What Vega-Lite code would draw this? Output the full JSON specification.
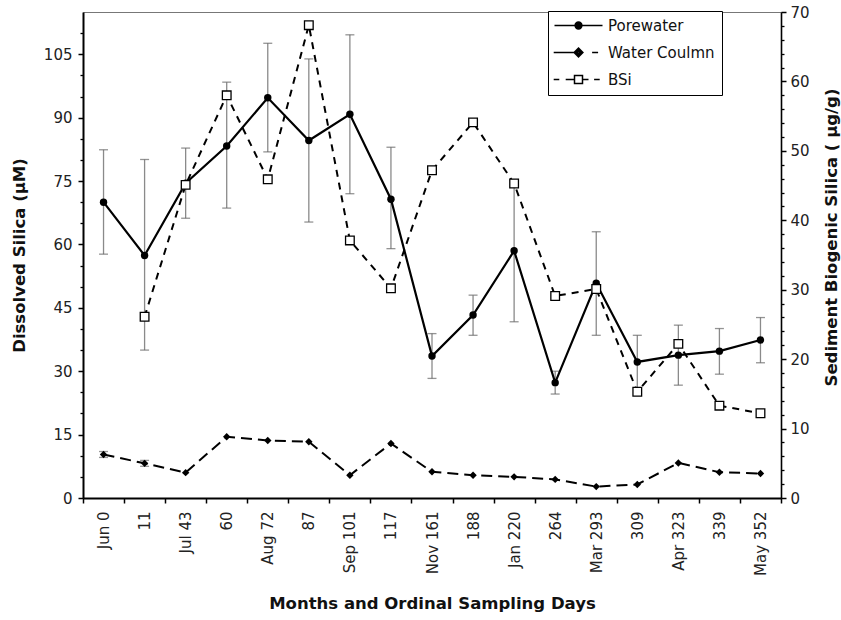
{
  "$schema": "https://vega.github.io/schema/vega-lite/v6.json",
  "width": 698,
  "height": 486,
  "autosize": {"type": "none"},
  "padding": {"left": 83, "top": 12, "right": 60, "bottom": 122},
  "background": "white",
  "config": {
    "font": "DejaVu Sans",
    "view": {"stroke": "#777", "strokeWidth": 1},
    "axis": {
      "grid": false,
      "labelFont": "DejaVu Sans",
      "labelFontSize": 15,
      "labelColor": "#222",
      "titleFont": "DejaVu Sans",
      "titleFontSize": 16.5,
      "titleFontWeight": "bold",
      "titleColor": "#111",
      "domainColor": "black",
      "tickColor": "black"
    }
  },
  "datasets": {
    "main": [
      {"day": "Jun 0", "pw": 70.0, "wc": 10.3, "bsi": null},
      {"day": "11", "pw": 57.4, "wc": 8.2, "bsi": 26.1},
      {"day": "Jul 43", "pw": 74.5, "wc": 6.0, "bsi": 45.1},
      {"day": "60", "pw": 83.3, "wc": 14.5, "bsi": 58.0},
      {"day": "Aug 72", "pw": 94.7, "wc": 13.6, "bsi": 45.9},
      {"day": "87", "pw": 84.6, "wc": 13.3, "bsi": 68.1},
      {"day": "Sep 101", "pw": 90.8, "wc": 5.4, "bsi": 37.1},
      {"day": "117", "pw": 70.7, "wc": 12.9, "bsi": 30.2},
      {"day": "Nov 161", "pw": 33.6, "wc": 6.2, "bsi": 47.2},
      {"day": "188", "pw": 43.3, "wc": 5.4, "bsi": 54.1},
      {"day": "Jan 220", "pw": 58.5, "wc": 5.0, "bsi": 45.3},
      {"day": "264", "pw": 27.3, "wc": 4.4, "bsi": 29.1},
      {"day": "Mar 293", "pw": 50.8, "wc": 2.7, "bsi": 30.1},
      {"day": "309", "pw": 32.2, "wc": 3.2, "bsi": 15.3},
      {"day": "Apr 323", "pw": 33.8, "wc": 8.3, "bsi": 22.2},
      {"day": "339", "pw": 34.75, "wc": 6.1, "bsi": 13.3},
      {"day": "May 352", "pw": 37.4, "wc": 5.8, "bsi": 12.2}
    ],
    "errors": [
      {"day": "Jun 0", "lo": 57.7, "hi": 82.4},
      {"day": "11", "lo": 35.0, "hi": 80.1},
      {"day": "Jul 43", "lo": 66.2, "hi": 82.8},
      {"day": "60", "lo": 68.6, "hi": 98.4},
      {"day": "Aug 72", "lo": 81.9, "hi": 107.6},
      {"day": "87", "lo": 65.3, "hi": 103.9},
      {"day": "Sep 101", "lo": 72.0, "hi": 109.6},
      {"day": "117", "lo": 59.0, "hi": 83.0},
      {"day": "Nov 161", "lo": 28.3, "hi": 38.9},
      {"day": "188", "lo": 38.5, "hi": 48.0},
      {"day": "Jan 220", "lo": 41.7, "hi": 75.3},
      {"day": "264", "lo": 24.6, "hi": 30.0},
      {"day": "Mar 293", "lo": 38.5, "hi": 63.0},
      {"day": "309", "lo": 26.0, "hi": 38.5},
      {"day": "Apr 323", "lo": 26.7, "hi": 40.9},
      {"day": "339", "lo": 29.3, "hi": 40.1},
      {"day": "May 352", "lo": 32.0, "hi": 42.7},
      {"day": "Jun 0", "lo": 9.6, "hi": 11.0},
      {"day": "11", "lo": 7.5, "hi": 8.9}
    ],
    "legend": [
      {"day": "Jun 0", "series": "Porewater"},
      {"day": "Jun 0", "series": "Water Coulmn"},
      {"day": "Jun 0", "series": "BSi"}
    ]
  },
  "encoding": {
    "x": {
      "field": "day",
      "type": "nominal",
      "scale": {
        "type": "band",
        "domain": ["Jun 0", "11", "Jul 43", "60", "Aug 72", "87", "Sep 101", "117", "Nov 161", "188", "Jan 220", "264", "Mar 293", "309", "Apr 323", "339", "May 352"],
        "paddingInner": 0,
        "paddingOuter": 0
      },
      "axis": {
        "orient": "bottom",
        "title": "Months and Ordinal Sampling Days",
        "labelAngle": 270,
        "tickBand": "extent",
        "tickSize": 5,
        "tickWidth": 1.5,
        "domainWidth": 2,
        "labelPadding": 8,
        "titlePadding": 20
      }
    }
  },
  "layer": [
    {
      "resolve": {"axis": {"y": "independent"}},
      "layer": [
        {
          "data": {"name": "errors"},
          "mark": {"type": "rule", "color": "#8a8a8a", "strokeWidth": 1.3},
          "encoding": {
            "y": {"field": "lo", "type": "quantitative", "scale": {"domain": [0, 115], "nice": false, "zero": true}, "axis": null},
            "y2": {"field": "hi"}
          }
        },
        {
          "data": {"name": "errors"},
          "mark": {"type": "tick", "color": "#666", "size": 9, "thickness": 1.3, "orient": "horizontal"},
          "encoding": {
            "y": {"field": "lo", "type": "quantitative", "axis": null}
          }
        },
        {
          "data": {"name": "errors"},
          "mark": {"type": "tick", "color": "#666", "size": 9, "thickness": 1.3, "orient": "horizontal"},
          "encoding": {
            "y": {"field": "hi", "type": "quantitative", "axis": null}
          }
        },
        {
          "data": {"name": "main"},
          "mark": {"type": "line", "color": "black", "strokeWidth": 2.2},
          "encoding": {
            "y": {
              "field": "pw",
              "type": "quantitative",
              "axis": {
                "orient": "left",
                "title": "Dissolved Silica (µM)",
                "values": [0, 15, 30, 45, 60, 75, 90, 105],
                "tickSize": 5,
                "tickWidth": 1.5,
                "domainWidth": 2,
                "labelPadding": 6,
                "titlePadding": 16
              }
            }
          }
        },
        {
          "data": {"name": "main"},
          "mark": {"type": "line", "color": "black", "strokeWidth": 2, "strokeDash": [11, 6]},
          "encoding": {
            "y": {
              "field": "wc",
              "type": "quantitative",
              "axis": {
                "orient": "left",
                "title": null,
                "values": [5, 10, 20, 25, 35, 40, 50, 55, 65, 70, 80, 85, 95, 100, 110],
                "labels": false,
                "domain": false,
                "tickSize": 3,
                "tickWidth": 1.3
              }
            }
          }
        },
        {
          "data": {"name": "main"},
          "mark": {"type": "point", "shape": "circle", "filled": true, "color": "black", "size": 55, "opacity": 1},
          "encoding": {
            "y": {"field": "pw", "type": "quantitative", "axis": null}
          }
        },
        {
          "data": {"name": "main"},
          "mark": {"type": "point", "shape": "diamond", "filled": true, "color": "black", "size": 55, "opacity": 1},
          "encoding": {
            "y": {"field": "wc", "type": "quantitative", "axis": null}
          }
        },
        {
          "data": {"name": "legend"},
          "mark": {"type": "point", "filled": false, "color": "black", "strokeWidth": 1.5, "size": 64, "opacity": 0},
          "encoding": {
            "shape": {
              "field": "series",
              "type": "nominal",
              "scale": {
                "domain": ["Porewater", "Water Coulmn", "BSi"],
                "range": [
                  "M-6,0H6M0.85,0A0.85,0.85,0,1,1,-0.85,0A0.85,0.85,0,1,1,0.85,0ZM0.5,0A0.5,0.5,0,1,1,-0.5,0A0.5,0.5,0,1,1,0.5,0ZM0.2,0A0.2,0.2,0,1,1,-0.2,0A0.2,0.2,0,1,1,0.2,0Z",
                  "M-6.2,0H-1M0,-1.1L1.1,0L0,1.1L-1.1,0ZM0,-0.7L0.7,0L0,0.7L-0.7,0ZM0,-0.3L0.3,0L0,0.3L-0.3,0ZM3.4,0H4.9",
                  "M-6.2,0H-4.8M-3.2,0H-1M1,0H2.5M3.9,0H5.3M-1,-1H1V1H-1Z"
                ]
              },
              "legend": {
                "orient": "none",
                "legendX": 465,
                "legendY": -1,
                "title": null,
                "direction": "vertical",
                "padding": 7,
                "strokeColor": "black",
                "fillColor": "white",
                "symbolSize": 64,
                "symbolStrokeColor": "black",
                "symbolStrokeWidth": 1.5,
                "symbolOpacity": 1,
                "symbolOffset": 16,
                "labelOffset": 22,
                "labelFont": "DejaVu Sans",
                "labelFontSize": 15,
                "labelColor": "#111",
                "rowPadding": 11
              }
            }
          }
        }
      ]
    },
    {
      "resolve": {"axis": {"y": "independent"}},
      "layer": [
        {
          "data": {"name": "main"},
          "mark": {"type": "line", "color": "black", "strokeWidth": 2, "strokeDash": [7, 6]},
          "encoding": {
            "y": {
              "field": "bsi",
              "type": "quantitative",
              "scale": {"domain": [0, 70], "nice": false, "zero": true},
              "axis": {
                "orient": "right",
                "title": "Sediment Biogenic Silica ( µg/g)",
                "titleAngle": 270,
                "titleY": 225,
                "values": [0, 10, 20, 30, 40, 50, 60, 70],
                "tickSize": 5,
                "tickWidth": 1.5,
                "domainWidth": 1.6,
                "labelPadding": 4,
                "titlePadding": 30
              }
            }
          }
        },
        {
          "data": {"name": "main"},
          "mark": {"type": "point", "shape": "square", "filled": true, "fill": "white", "stroke": "black", "strokeWidth": 1.3, "size": 75, "opacity": 1},
          "encoding": {
            "y": {
              "field": "bsi",
              "type": "quantitative",
              "axis": {
                "orient": "right",
                "title": null,
                "values": [2, 4, 6, 8, 12, 14, 16, 18, 22, 24, 26, 28, 32, 34, 36, 38, 42, 44, 46, 48, 52, 54, 56, 58, 62, 64, 66, 68],
                "labels": false,
                "domain": false,
                "tickSize": 3,
                "tickWidth": 1.3
              }
            }
          }
        }
      ]
    }
  ],
  "resolve": {"scale": {"y": "independent"}}
}
